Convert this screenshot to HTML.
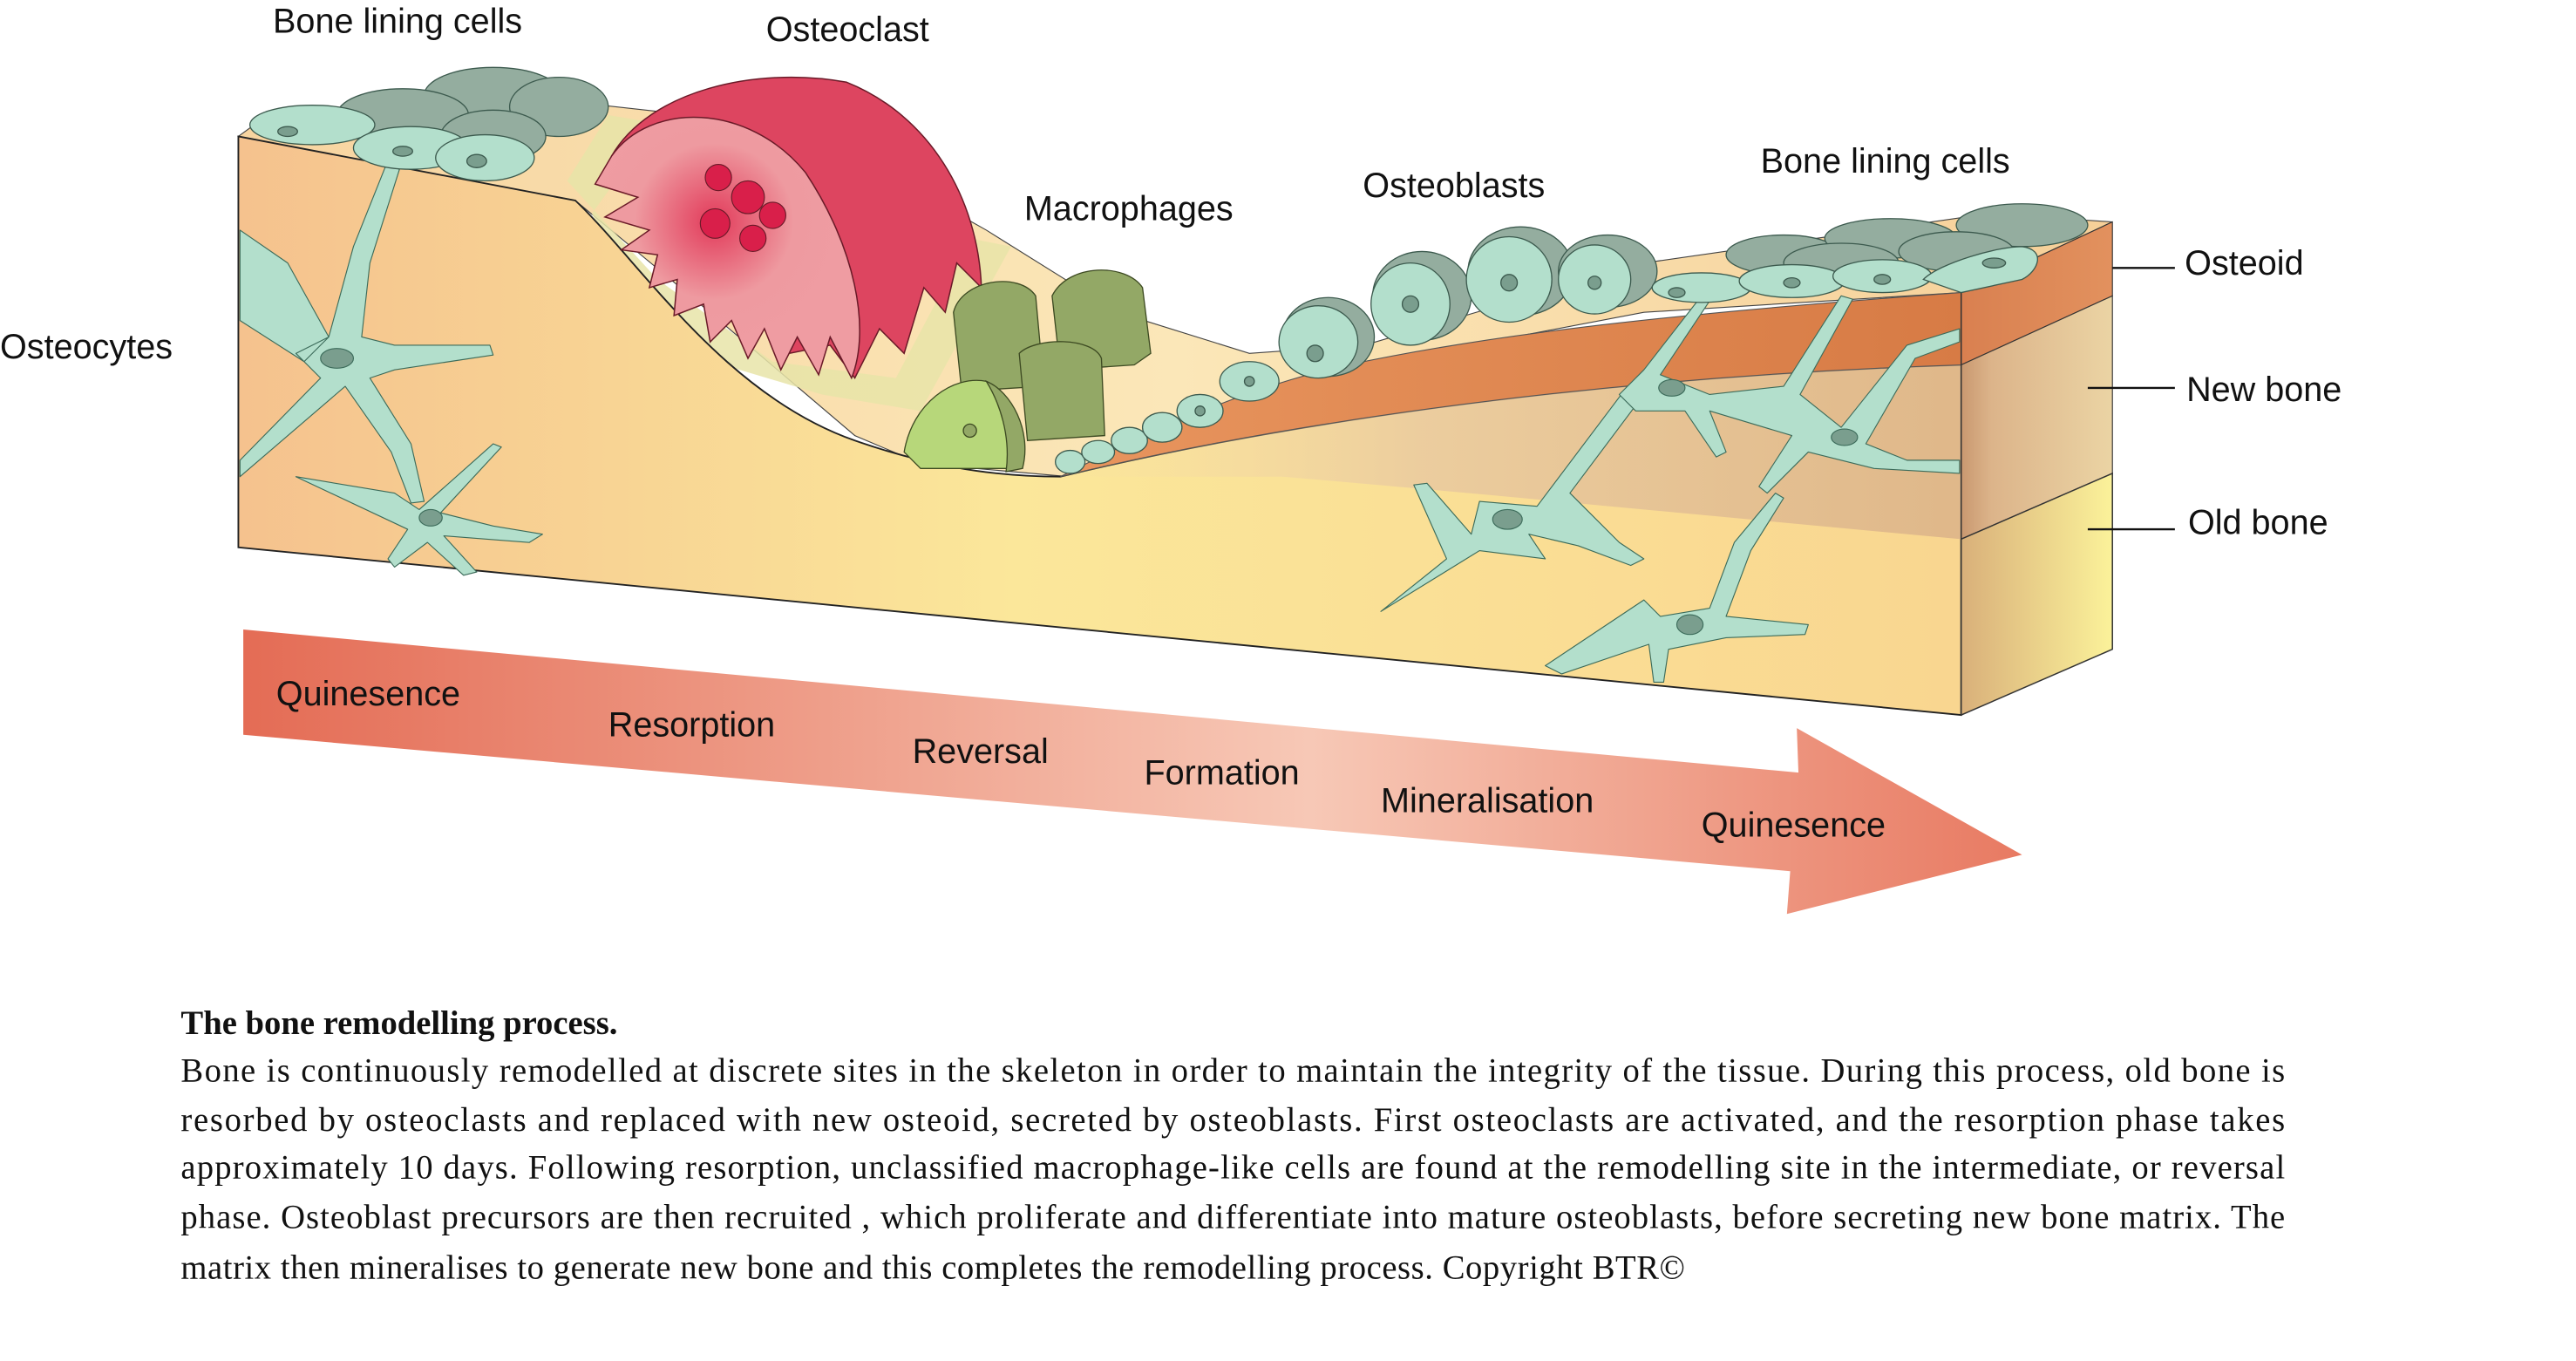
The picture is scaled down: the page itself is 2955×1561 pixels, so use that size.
<!DOCTYPE html>
<html><head><meta charset="utf-8"><style>
html,body{margin:0;padding:0;background:#fff;}
svg{display:block}
</style></head><body>
<svg width="2955" height="1561" viewBox="0 0 1567 828" preserveAspectRatio="none" xmlns="http://www.w3.org/2000/svg" font-family="Liberation Sans, Arial, sans-serif">
<defs>
<linearGradient id="front" x1="0" x2="1" y1="0" y2="0">
<stop offset="0" stop-color="#f5c28e"/><stop offset="0.45" stop-color="#fbe79a"/><stop offset="1" stop-color="#f9d690"/>
</linearGradient>
<linearGradient id="topg" x1="0" x2="1"><stop offset="0" stop-color="#f7d4a0"/><stop offset="0.5" stop-color="#fbe7b8"/><stop offset="1" stop-color="#f6cf98"/></linearGradient>
<linearGradient id="newb" x1="0" x2="1"><stop offset="0" stop-color="#f6dcae" stop-opacity="0"/><stop offset="0.4" stop-color="#e8c8a0"/><stop offset="1" stop-color="#d9b088"/></linearGradient>
<linearGradient id="ost" x1="0" x2="1"><stop offset="0" stop-color="#e8955e"/><stop offset="1" stop-color="#d77b45"/></linearGradient>
<linearGradient id="sideO" x1="0" x2="1"><stop offset="0" stop-color="#d98050"/><stop offset="1" stop-color="#e2915e"/></linearGradient>
<linearGradient id="sideN" x1="0" x2="1"><stop offset="0" stop-color="#c99870"/><stop offset="0.2" stop-color="#dcb48a"/><stop offset="1" stop-color="#ebd4a4"/></linearGradient>
<linearGradient id="sideL" x1="0" x2="1"><stop offset="0" stop-color="#d9b07a"/><stop offset="1" stop-color="#fbf29a"/></linearGradient>
<linearGradient id="arr" x1="0" x2="1"><stop offset="0" stop-color="#e46c55"/><stop offset="0.6" stop-color="#f7c8b6"/><stop offset="1" stop-color="#e87a62"/></linearGradient>
<radialGradient id="pinkc" cx="0.45" cy="0.4" r="0.5"><stop offset="0" stop-color="#e23a5a"/><stop offset="0.6" stop-color="#ee9aa0"/><stop offset="1" stop-color="#ef9ca2"/></radialGradient>
</defs>

<path d="M145,83 L160,72 L330,60 L420,70 L520,95 L600,140 L680,190 L760,215 L830,210 L1000,160 L1210,130 L1285,135 L1193,178 L1000,190 L800,228 L650,290 L560,282 L520,265 L420,180 L350,122 Z" fill="url(#topg)" stroke="#444" stroke-width="0.6"/>
<path d="M345,110 L370,70 L400,75 L360,130 L400,210 L500,240 L560,250 L615,150 L590,145 L545,230 L470,220 L400,170 Z" fill="#e8e4a8" opacity="0.85"/>
<path d="M145,83 L350,122 C390,160 440,240 520,268 C560,282 600,290 645,290 C760,262 950,230 1193,222 L1193,435 L145,333 Z" fill="url(#front)" stroke="#222" stroke-width="1"/>
<path d="M645,290 C760,262 950,230 1193,222 L1193,328 C1050,315 900,300 780,290 Z" fill="url(#newb)" opacity="0.8"/>
<path d="M645,290 C700,262 760,235 820,222 C900,205 1000,192 1193,178 L1193,222 C950,230 760,262 645,290 Z" fill="url(#ost)" stroke="#555" stroke-width="0.6"/>
<path d="M1193,178 L1285,135 L1285,180 L1193,222 Z" fill="url(#sideO)" stroke="#333" stroke-width="0.6"/>
<path d="M1193,222 L1285,180 L1285,288 L1193,328 Z" fill="url(#sideN)" stroke="#333" stroke-width="0.6"/>
<path d="M1193,328 L1285,288 L1285,395 L1193,435 Z" fill="url(#sideL)" stroke="#333" stroke-width="0.8"/>
<line x1="1193" y1="178" x2="1193" y2="435" stroke="#333" stroke-width="0.8"/>

<g fill="#b3dfcc" stroke="#3c6b5a" stroke-width="0.6" stroke-linejoin="round">
<path d="M146,140 L175,160 L200,205 L185,220 L146,195 Z M200,205 L215,150 L235,100 L243,103 L225,160 L220,205 L240,210 L298,210 L300,216 L240,225 L225,230 L250,270 L258,305 L250,306 L238,275 L210,235 L146,290 L146,280 L195,230 L180,215 Z"/>
<ellipse cx="205" cy="218" rx="10" ry="6" fill="#7a9e8e"/>
<path d="M180,290 L240,300 L255,310 L300,270 L305,272 L268,312 L300,320 L330,325 L322,330 L270,326 L290,348 L282,350 L260,330 L240,345 L236,340 L248,322 Z"/>
<ellipse cx="262" cy="315" rx="7" ry="5" fill="#7a9e8e"/>
<path d="M840,372 L880,340 L860,295 L868,294 L895,325 L900,305 L935,308 L990,235 L1000,240 L955,300 L985,330 L1000,340 L992,344 L960,332 L930,325 L940,340 L900,335 Z"/>
<ellipse cx="917" cy="316" rx="9" ry="6" fill="#7a9e8e"/>
<path d="M940,405 L1000,365 L1010,375 L1040,370 L1055,330 L1080,300 L1085,303 L1065,335 L1050,375 L1100,380 L1098,386 L1050,388 L1015,395 L1012,415 L1006,415 L1003,392 L950,410 Z"/>
<ellipse cx="1028" cy="380" rx="8" ry="6" fill="#7a9e8e"/>
<path d="M985,240 L1000,225 L1035,180 L1040,183 L1010,228 L1040,240 L1085,235 L1120,180 L1127,182 L1095,240 L1120,260 L1160,210 L1192,200 L1192,208 L1165,218 L1135,270 L1160,280 L1192,280 L1192,288 L1140,285 L1100,275 L1075,300 L1070,296 L1090,265 L1040,250 L1050,275 L1044,278 L1025,250 L995,250 Z"/>
<ellipse cx="1017" cy="236" rx="8" ry="5" fill="#7a9e8e"/>
<ellipse cx="1122" cy="266" rx="8" ry="5" fill="#7a9e8e"/>
</g>

<g stroke="#3c5a4e" stroke-width="0.7">
<ellipse cx="300" cy="58" rx="42" ry="17" fill="#94ad9f"/>
<ellipse cx="245" cy="70" rx="40" ry="16" fill="#94ad9f"/>
<ellipse cx="340" cy="65" rx="30" ry="18" fill="#94ad9f"/>
<ellipse cx="300" cy="83" rx="32" ry="16" fill="#94ad9f"/>
<ellipse cx="190" cy="76" rx="38" ry="12" fill="#b3dfcc"/>
<ellipse cx="250" cy="90" rx="35" ry="13" fill="#b3dfcc"/>
<ellipse cx="295" cy="96" rx="30" ry="14" fill="#b3dfcc"/>
<ellipse cx="175" cy="80" rx="6" ry="3" fill="#7a9e8e"/>
<ellipse cx="245" cy="92" rx="6" ry="3" fill="#7a9e8e"/>
<ellipse cx="290" cy="98" rx="6" ry="4" fill="#7a9e8e"/>
</g>

<path d="M372,95 C395,55 460,40 515,50 C565,70 595,120 597,175 L582,160 L575,190 L562,175 L550,215 L535,200 L520,230 L505,210 L480,215 Z" fill="#dd4560" stroke="#6a1a28" stroke-width="0.8"/>
<path d="M372,95 C395,62 455,62 490,105 C520,150 530,200 518,230 L505,205 L498,228 L485,205 L475,225 L465,200 L455,218 L445,195 L432,208 L428,185 L410,192 L412,170 L395,175 L400,155 L378,152 L395,140 L368,132 L388,120 L362,112 Z" fill="url(#pinkc)" stroke="#6a1a28" stroke-width="0.8"/>
<g fill="#d91f4a" stroke="#6a1a28" stroke-width="0.6">
<circle cx="437" cy="108" r="8"/><circle cx="455" cy="120" r="10"/><circle cx="470" cy="131" r="8"/><circle cx="435" cy="136" r="9"/><circle cx="458" cy="145" r="8"/>
</g>

<g stroke="#3d4a22" stroke-width="0.7">
<path d="M580,190 C585,170 620,165 630,180 L635,235 L585,238 Z" fill="#93a866"/>
<path d="M640,180 C650,160 685,160 695,175 L700,215 L690,222 L645,225 Z" fill="#93a866"/>
<path d="M620,215 C630,205 665,205 670,218 L672,265 L625,268 Z" fill="#93a866"/>
<path d="M550,275 C555,245 580,228 600,232 C615,240 625,265 622,285 L560,285 Z" fill="#b7d77a"/>
<path d="M600,232 C615,238 628,262 622,285 L612,287 C615,265 608,245 600,232 Z" fill="#93a866"/>
<circle cx="590" cy="262" r="4" fill="#93a866"/>
</g>

<g stroke="#3c5a4e" stroke-width="0.7">
<ellipse cx="651" cy="281" rx="9" ry="7" fill="#b3dfcc"/>
<ellipse cx="668" cy="275" rx="10" ry="7" fill="#b3dfcc"/>
<ellipse cx="687" cy="268" rx="11" ry="8" fill="#b3dfcc"/>
<ellipse cx="707" cy="260" rx="12" ry="9" fill="#b3dfcc"/>
<ellipse cx="730" cy="250" rx="14" ry="10" fill="#b3dfcc"/>
<ellipse cx="760" cy="232" rx="18" ry="12" fill="#b3dfcc"/>
<ellipse cx="808" cy="205" rx="28" ry="24" fill="#94ad9f"/>
<ellipse cx="802" cy="208" rx="24" ry="22" fill="#b3dfcc"/>
<ellipse cx="865" cy="180" rx="30" ry="27" fill="#94ad9f"/>
<ellipse cx="858" cy="185" rx="24" ry="25" fill="#b3dfcc"/>
<ellipse cx="925" cy="165" rx="32" ry="27" fill="#94ad9f"/>
<ellipse cx="918" cy="170" rx="26" ry="26" fill="#b3dfcc"/>
<ellipse cx="978" cy="165" rx="30" ry="22" fill="#94ad9f"/>
<ellipse cx="970" cy="170" rx="22" ry="21" fill="#b3dfcc"/>
<circle cx="800" cy="215" r="5" fill="#7a9e8e"/><circle cx="858" cy="185" r="5" fill="#7a9e8e"/><circle cx="918" cy="172" r="5" fill="#7a9e8e"/><circle cx="970" cy="172" r="4" fill="#7a9e8e"/>
<circle cx="760" cy="232" r="3" fill="#7a9e8e"/><circle cx="730" cy="250" r="3" fill="#7a9e8e"/>
</g>
<g stroke="#3c5a4e" stroke-width="0.7">
<ellipse cx="1085" cy="155" rx="35" ry="12" fill="#94ad9f"/>
<ellipse cx="1150" cy="145" rx="40" ry="12" fill="#94ad9f"/>
<ellipse cx="1230" cy="137" rx="40" ry="13" fill="#94ad9f"/>
<ellipse cx="1120" cy="160" rx="35" ry="12" fill="#94ad9f"/>
<ellipse cx="1190" cy="153" rx="35" ry="12" fill="#94ad9f"/>
<ellipse cx="1035" cy="175" rx="30" ry="9" fill="#b3dfcc"/>
<ellipse cx="1090" cy="171" rx="32" ry="10" fill="#b3dfcc"/>
<ellipse cx="1145" cy="168" rx="30" ry="10" fill="#b3dfcc"/>
<path d="M1170,170 C1180,160 1215,150 1230,150 C1245,152 1240,165 1230,170 L1193,178 Z" fill="#b3dfcc"/>
<ellipse cx="1020" cy="178" rx="5" ry="3" fill="#7a9e8e"/>
<ellipse cx="1090" cy="172" rx="5" ry="3" fill="#7a9e8e"/>
<ellipse cx="1145" cy="170" rx="5" ry="3" fill="#7a9e8e"/>
<ellipse cx="1213" cy="160" rx="7" ry="3" fill="#7a9e8e"/>
</g>

<g stroke="#111" stroke-width="1.3">
<line x1="1285" y1="163" x2="1323" y2="163"/>
<line x1="1270" y1="236" x2="1323" y2="236"/>
<line x1="1270" y1="322" x2="1323" y2="322"/>
</g>

<path d="M148,383 L1094,470 L1093,443 L1230,520 L1087,556 L1089,530 L148,447 Z" fill="url(#arr)"/>

<g font-size="21" fill="#111">
<text x="166" y="20">Bone lining cells</text>
<text x="466" y="25">Osteoclast</text>
<text x="623" y="134">Macrophages</text>
<text x="829" y="120">Osteoblasts</text>
<text x="1071" y="105">Bone lining cells</text>
<text x="0" y="218">Osteocytes</text>
<text x="1329" y="167">Osteoid</text>
<text x="1330" y="244">New bone</text>
<text x="1331" y="325">Old bone</text>
<text x="168" y="429">Quinesence</text>
<text x="370" y="448">Resorption</text>
<text x="555" y="464">Reversal</text>
<text x="696" y="477">Formation</text>
<text x="840" y="494">Mineralisation</text>
<text x="1035" y="509">Quinesence</text>
</g>

<g font-family="Liberation Serif, Times New Roman, serif" font-size="20.5" fill="#111">
<text x="110" y="629" font-weight="bold">The bone remodelling process.</text>
<text x="110" y="658" textLength="1280" lengthAdjust="spacing">Bone is continuously remodelled at discrete sites in the skeleton in order to maintain the integrity of the tissue.  During this process, old bone is</text>
<text x="110" y="688" textLength="1280" lengthAdjust="spacing">resorbed by osteoclasts and replaced with new osteoid, secreted by osteoblasts.  First osteoclasts are activated, and the resorption phase takes</text>
<text x="110" y="717" textLength="1280" lengthAdjust="spacing">approximately 10 days.  Following resorption, unclassified macrophage-like cells are found at the remodelling site in the intermediate, or reversal</text>
<text x="110" y="747" textLength="1280" lengthAdjust="spacing">phase. Osteoblast precursors are then recruited , which proliferate and differentiate into mature osteoblasts, before secreting new bone matrix. The</text>
<text x="110" y="778" textLength="915" lengthAdjust="spacing">matrix then mineralises to generate new bone and this completes the remodelling process. Copyright BTR©</text>
</g>
</svg>
</body></html>
